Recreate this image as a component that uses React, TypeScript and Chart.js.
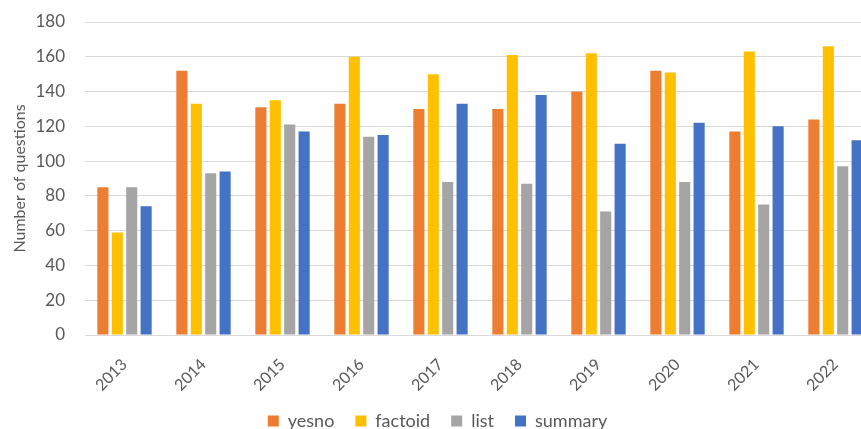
import React, { useEffect, useRef } from 'react';
import { Chart, registerables } from 'chart.js';

Chart.register(...registerables);

const years = ['2013', '2014', '2015', '2016', '2017', '2018', '2019', '2020', '2021', '2022'];
const yesno = [85, 152, 131, 133, 130, 130, 140, 152, 117, 124];
const factoid = [59, 133, 135, 160, 150, 161, 162, 151, 163, 166];
const list = [85, 93, 121, 114, 88, 87, 71, 88, 75, 97];
const summary = [74, 94, 117, 115, 133, 138, 110, 122, 120, 112];

const seriesNames = ['yesno', 'factoid', 'list', 'summary'];
const seriesColors = ['#ED7D31', '#FFC000', '#A5A5A5', '#4472C4'];

const FONT = 'Lato, "Liberation Sans", sans-serif';
const TEXT = '#595959';

export default function App() {
  const ref = useRef<HTMLCanvasElement>(null);

  useEffect(() => {
    if (!ref.current) return;
    const values = [yesno, factoid, list, summary];
    const chart = new Chart(ref.current, {
      type: 'bar',
      data: {
        labels: years,
        datasets: seriesNames.map((name, i) => ({
          label: name,
          data: values[i],
          backgroundColor: seriesColors[i],
          borderWidth: 0,
          categoryPercentage: 0.73,
          barPercentage: 0.77,
        })),
      },
      options: {
        responsive: false,
        animation: false,
        layout: { padding: { top: 0, left: 0, right: 0, bottom: 0 } },
        plugins: {
          tooltip: { enabled: false },
          legend: {
            position: 'bottom',
            labels: {
              boxWidth: 11,
              boxHeight: 11,
              padding: 21,
              color: TEXT,
              font: { family: FONT, size: 18 },
            },
          },
        },
        scales: {
          x: {
            afterFit: (scale: any) => {
              scale.height = 56;
            },
            grid: { display: false },
            border: { display: false },
            ticks: {
              color: TEXT,
              font: { family: FONT, size: 16 },
              minRotation: 45,
              maxRotation: 45,
              padding: 12,
            },
          },
          y: {
            min: 0,
            max: 180,
            afterFit: (scale: any) => {
              scale.width = 85;
              scale.paddingTop = 22;
              scale.paddingBottom = 10;
            },
            grid: { color: '#D9D9D9', drawTicks: false, lineWidth: 1 },
            border: { display: false },
            ticks: {
              stepSize: 20,
              color: TEXT,
              font: { family: FONT, size: 17 },
              padding: 20,
            },
            title: {
              display: true,
              text: 'Number of questions',
              color: TEXT,
              font: { family: FONT, size: 16 },
              padding: { top: 10, bottom: 0 },
            },
          },
        },
      },
    });
    return () => chart.destroy();
  }, []);

  return (
    <div style={{ position: 'fixed', left: 0, top: 0, width: 861, height: 429, overflow: 'hidden', background: '#fff' }}>
      <canvas ref={ref} width={875} height={440} style={{ width: 875, height: 440, display: 'block' }} />
    </div>
  );
}
